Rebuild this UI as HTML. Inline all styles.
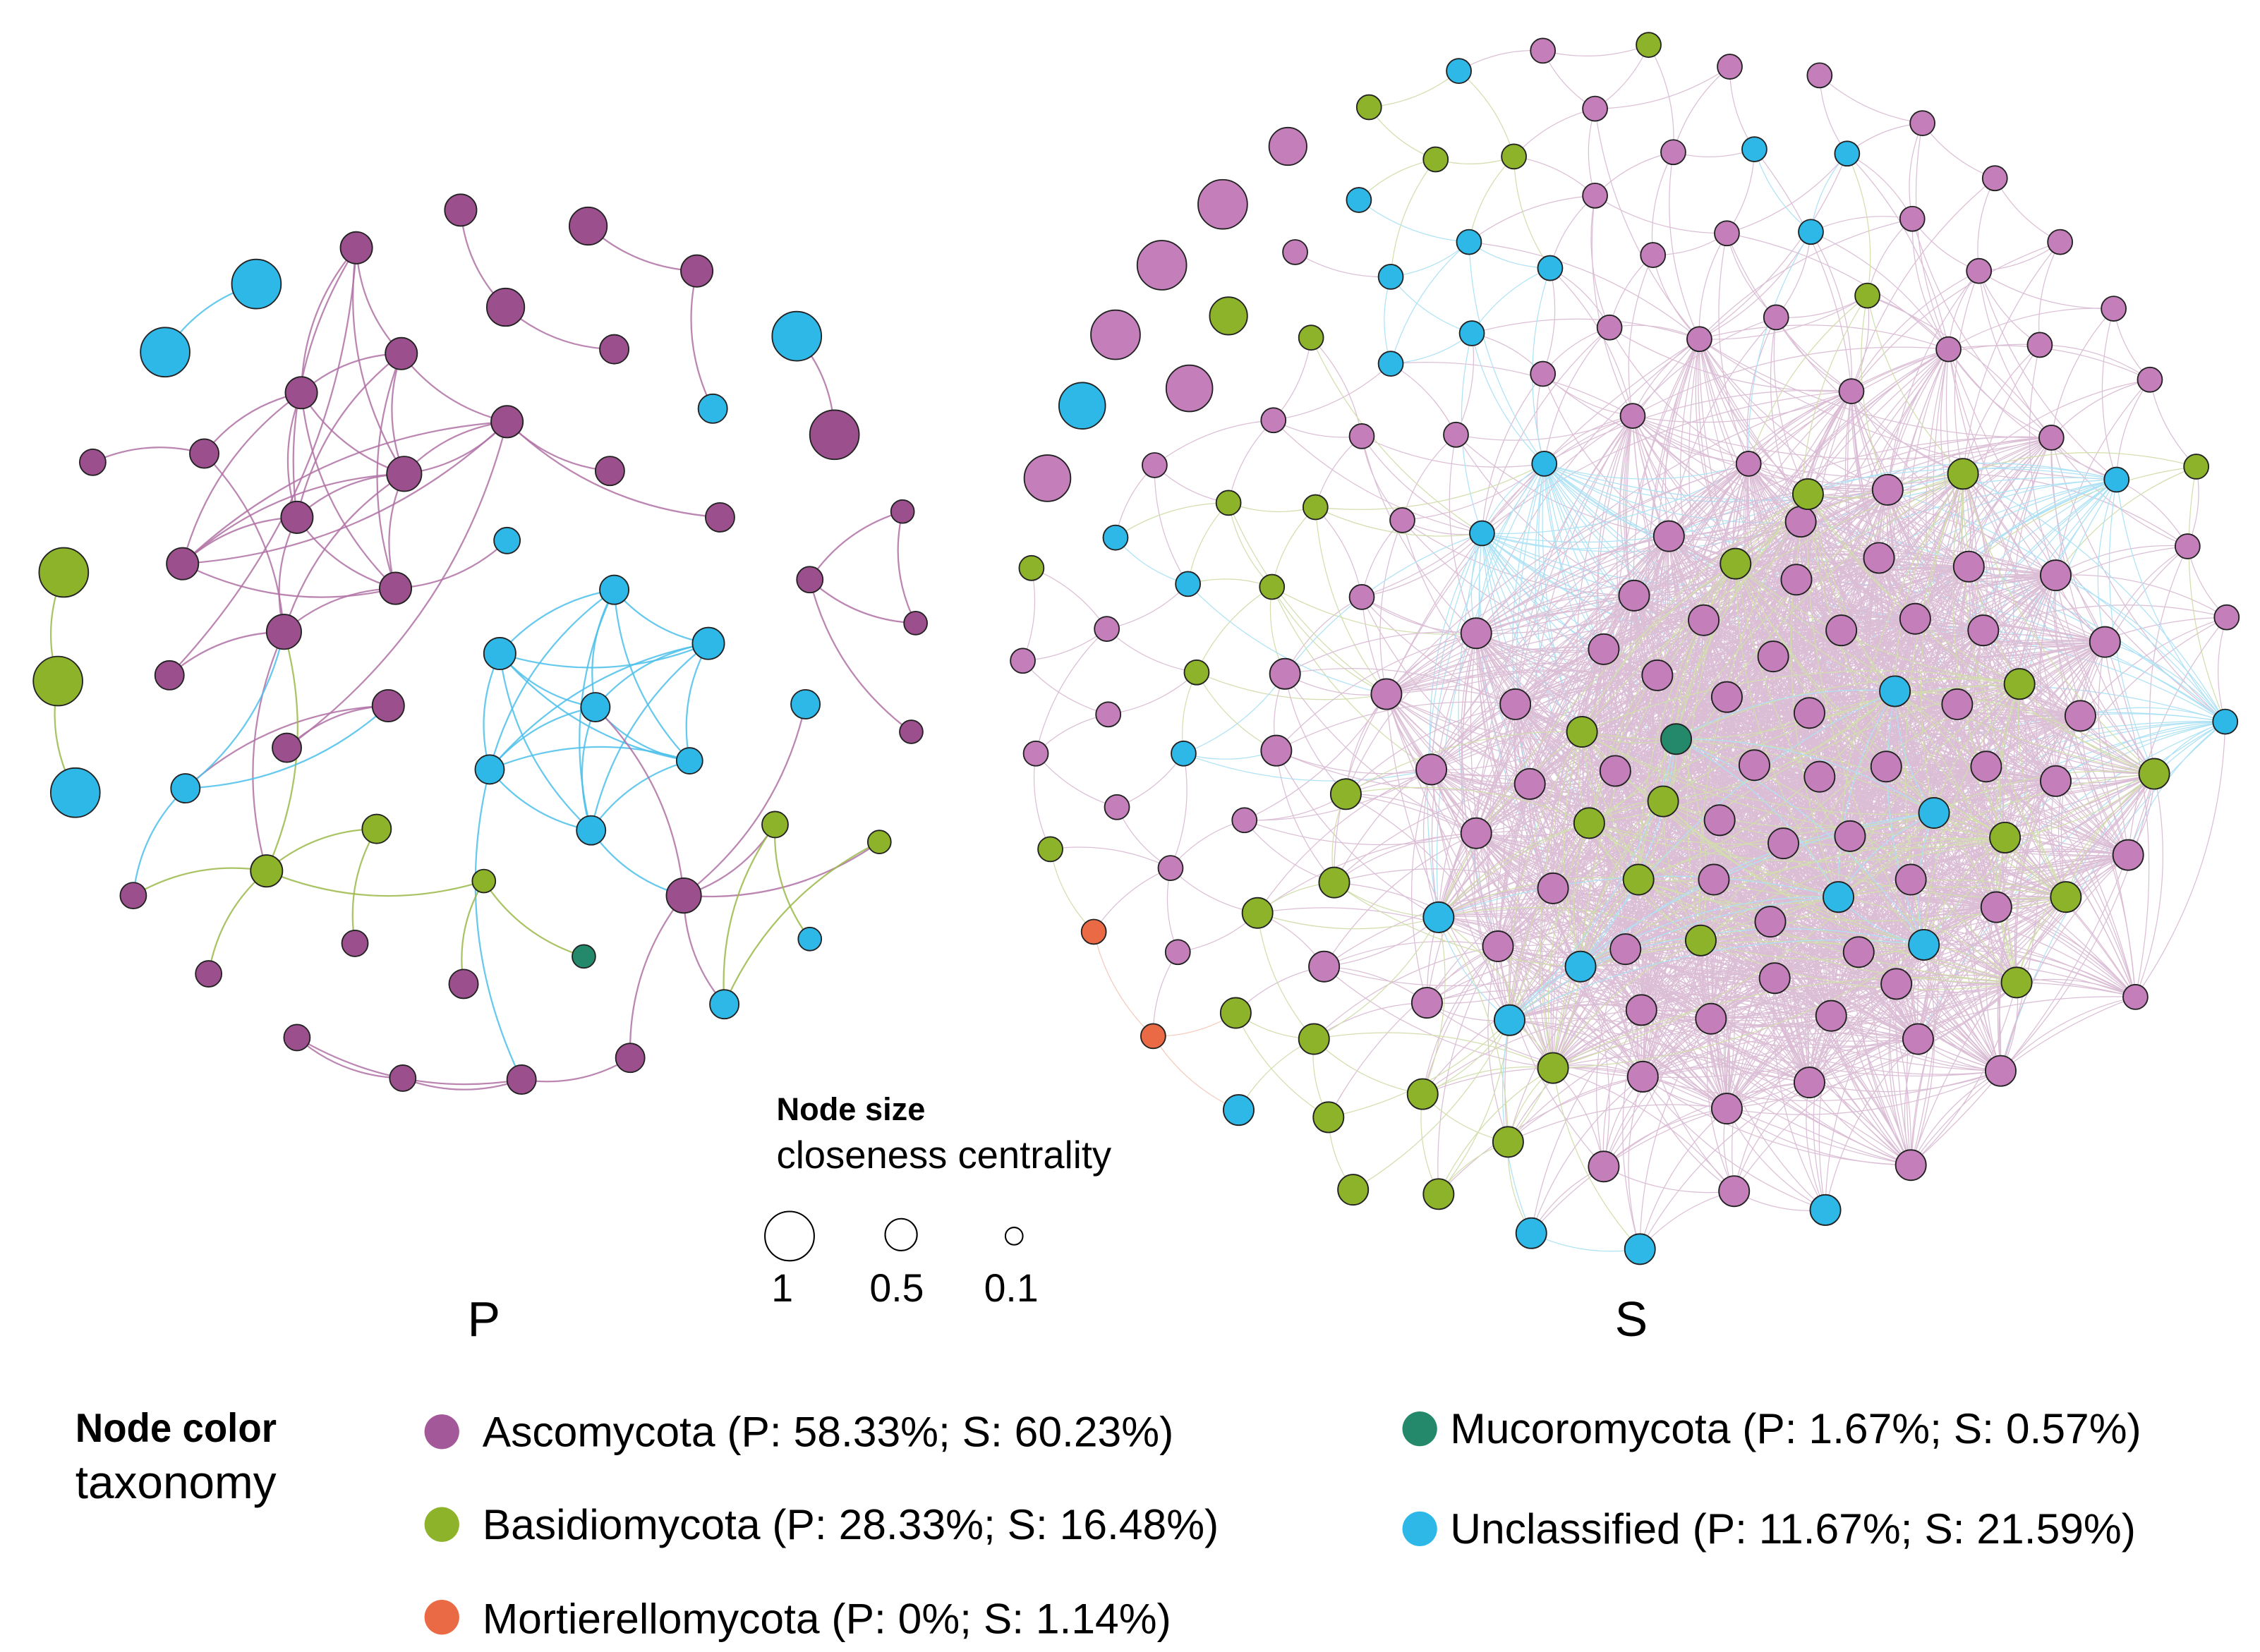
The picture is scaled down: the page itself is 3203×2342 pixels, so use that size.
<!DOCTYPE html>
<html><head><meta charset="utf-8"><style>
html,body{margin:0;padding:0;background:#fff;}
svg{display:block;font-family:"Liberation Sans",Arial,sans-serif;}
</style></head><body>
<svg id="chart" width="3203" height="2342" viewBox="0 0 1560 1140" preserveAspectRatio="none">
<g id="edges"></g>
<g id="nodes"></g>
<g>
<text x="536" y="773" font-size="22" font-weight="bold">Node size</text>
<text x="536" y="806" font-size="26.5">closeness centrality</text>
<circle cx="545" cy="853" r="17" fill="#fff" stroke="#000" stroke-width="1"/>
<circle cx="622" cy="852" r="11" fill="#fff" stroke="#000" stroke-width="1"/>
<circle cx="700" cy="853" r="6" fill="#fff" stroke="#000" stroke-width="1"/>
<text x="540" y="898" font-size="27" text-anchor="middle">1</text>
<text x="619" y="898" font-size="27" text-anchor="middle">0.5</text>
<text x="698" y="898" font-size="27" text-anchor="middle">0.1</text>
</g>
<text x="334" y="922" font-size="34" text-anchor="middle">P</text>
<text x="1126" y="922" font-size="34" text-anchor="middle">S</text>
<g>
<text x="52" y="995" font-size="28" font-weight="bold" transform="scale(0.95,1)" transform-origin="52 995">Node color</text>
<text x="52" y="1034" font-size="32">taxonomy</text>
<circle cx="305" cy="988" r="12" fill="#a3589a"/>
<text x="333" y="998" font-size="29.5">Ascomycota (P: 58.33%; S: 60.23%)</text>
<circle cx="305" cy="1052" r="12" fill="#8db32a"/>
<text x="333" y="1062" font-size="29.5">Basidiomycota (P: 28.33%; S: 16.48%)</text>
<circle cx="305" cy="1116" r="12" fill="#ea6a45"/>
<text x="333" y="1127" font-size="29.5">Mortierellomycota (P: 0%; S: 1.14%)</text>
<circle cx="980" cy="986" r="12" fill="#24896a"/>
<text x="1001" y="996" font-size="29.5">Mucoromycota (P: 1.67%; S: 0.57%)</text>
<circle cx="980" cy="1055" r="12" fill="#2db8e8"/>
<text x="1001" y="1065" font-size="29.5">Unclassified (P: 11.67%; S: 21.59%)</text>
</g>
</svg>
<script>
// P network nodes: x, y, radius, phylum
const pX=[246,277,208,350,279,205,126,273,196,117,268,198,141,64,318,406,481,349,424,576,421,497,559,623,632,629,472,92,245,144,320,205,278,360,435,
177,114,550,492,350,424,345,489,411,476,338,408,556,128,52,559,500,
44,40,260,184,334,535,607,403];
const pY=[171,244,271,291,327,357,389,406,436,466,487,516,313,319,145,156,187,212,241,300,325,357,400,353,430,505,618,618,651,672,679,716,744,745,730,
196,243,232,282,373,407,451,444,488,525,531,573,486,544,547,648,693,
395,470,572,601,608,569,581,660];
const pR=[11,11,11,11,12,11,11,11,12,10,11,10,10,9,11,13,11,13,10,17,10,10,9,8,8,8,12,9,9,9,10,9,9,10,10,
17,17,17,10,9,10,11,11,10,9,10,10,10,10,17,8,10,
17,17,10,11,8,9,8,8];
const pT=[].concat(Array(35).fill('A'),Array(17).fill('U'),Array(7).fill('B'),['M']);
// P edges (index pairs)
const pEdges=[[0,1],[0,2],[0,4],[0,5],[1,2],[1,4],[1,5],[1,7],[1,3],[2,4],[2,5],[2,6],[2,12],[2,7],[3,4],[3,6],[3,20],[3,21],[4,5],[4,6],[4,7],[4,8],[4,3],[5,6],[5,7],[5,8],[6,7],[6,3],[7,8],[7,39],[8,12],[8,9],[8,55],[10,11],[10,48],[12,13],[14,17],[15,16],[16,38],[17,18],[19,37],[22,24],[22,25],[23,24],[23,22],[35,36],
[40,41],[40,42],[40,43],[40,44],[40,45],[40,46],[41,42],[41,43],[41,44],[41,45],[41,46],[42,43],[42,44],[42,45],[42,46],[43,44],[43,45],[43,46],[44,45],[44,46],[45,46],[46,26],[45,33],[26,47],[26,43],[26,51],[26,34],[26,57],[26,58],[57,51],[58,51],[57,50],
[52,53],[53,49],[54,55],[55,56],[55,29],[55,27],[55,8],[54,28],[56,59],[56,30],[31,32],[32,33],[33,34],[31,33],[48,10],[48,8],[48,27],[9,0],[11,3]];
// S network nodes
const sX=[889,844,802,770,821,723,747,848,
1065,1101,1194,1256,1327,1377,1320,1366,1422,1459,1484,1408,1345,1155,1101,1141,1192,1226,1173,1111,1065,894,879,940,1005,1127,1278,797,968,940,1416,1510,1537,1474,706,764,765,715,771,859,808,813,
945,991,1045,1138,1289,905,848,908,712,878,826,1516,725,
1007,1211,1275,1250,938,960,1014,1070,960,1016,1066,770,820,1023,1461,1536,817,
755,796,
1207,1303,1152,1243,1297,1359,1419,1128,1176,1240,1271,1322,1369,1453,1019,1107,1144,1224,1192,1249,1351,1436,1046,887,881,957,988,1056,1115,1211,1256,1302,1371,1419,1019,1187,1231,1277,1072,1183,1319,1378,1469,1222,1283,1034,1122,1225,1133,1181,1264,1309,985,914,1324,1249,1134,1192,1381,1107,1197,1319,
1248,1355,1198,1394,1092,1148,1097,1384,1487,1131,1426,1174,1392,1072,929,921,868,853,907,982,917,1041,993,934,
1308,1335,1269,1328,993,1091,1042,855,1057,1132,1260,
1157];
const sY=[101,141,183,231,268,330,280,218,
35,75,46,52,85,123,151,187,167,213,262,238,241,105,135,176,161,219,234,226,258,174,290,301,300,287,270,321,359,412,302,377,426,688,456,434,493,520,557,566,599,657,
74,110,108,31,204,233,347,350,392,405,464,322,586,
49,103,106,160,138,191,167,185,251,230,320,371,403,368,331,498,520,
643,715,
320,338,370,360,385,391,397,411,428,400,435,427,435,443,437,448,466,453,481,492,486,494,486,465,518,479,531,541,532,528,536,529,529,539,575,566,582,577,613,607,607,626,590,636,657,653,655,675,697,703,701,679,692,667,717,747,743,765,739,805,822,804,
341,327,389,472,505,553,568,578,534,607,619,649,678,737,548,609,630,699,717,755,771,788,824,821,
477,561,619,652,633,667,704,766,851,862,835,
510];
const sR=[13,17,17,17,16,16,16,13];
const sT=[].concat(Array(6).fill('A'),['U','B'],Array(42).fill('A'),Array(13).fill('B'),Array(17).fill('U'),['O','O'],Array(62).fill('A'),Array(24).fill('B'),Array(11).fill('U'),['M']);
const pCol={A:'#9c4f8d',B:'#8db32a',U:'#2db8e8',M:'#24896a',O:'#ea6a45'};
const sCol={A:'#c47fba',B:'#8db32a',U:'#2db8e8',M:'#24896a',O:'#ea6a45'};
const eCol={A:'#b071a4',B:'#9bb84a',U:'#4cc0ea',M:'#3a9a7c',O:'#e88a6a'};
const NS='http://www.w3.org/2000/svg';
const eg=document.getElementById('edges'), ng=document.getElementById('nodes');
function curve(x1,y1,x2,y2,k){const mx=(x1+x2)/2,my=(y1+y2)/2,dx=x2-x1,dy=y2-y1;return 'M'+x1+' '+y1+' Q'+(mx-dy*k)+' '+(my+dx*k)+' '+x2+' '+y2;}
pEdges.forEach(function(e){const a=e[0],b=e[1];
 const p=document.createElementNS(NS,'path');
 p.setAttribute('d',curve(pX[a],pY[a],pX[b],pY[b],0.18));
 p.setAttribute('fill','none');p.setAttribute('stroke',eCol[pT[a]]);p.setAttribute('stroke-width','1.1');p.setAttribute('opacity','0.85');
 
 
 eg.appendChild(p);});
let sb='';
const core=[];for(let i=8;i<sX.length;i++)core.push(i);
const cx0=1240,cy0=520;
for(let ii=0;ii<core.length;ii++){for(let jj=ii+1;jj<core.length;jj++){
 const a=core[ii],b=core[jj];const dx=sX[a]-sX[b],dy=sY[a]-sY[b];const d=Math.sqrt(dx*dx+dy*dy);
 const ca=Math.hypot(sX[a]-cx0,sY[a]-cy0),cb=Math.hypot(sX[b]-cx0,sY[b]-cy0);
 const lim=(ca<300&&cb<300)?330:(ca<300||cb<300)?180:100;
 if(d<lim && ((a*7+b*13)%3!==0 || ca<250)){
  sb+='<path d="'+curve(sX[a],sY[a],sX[b],sY[b],0.15)+'" stroke="'+eCol[sT[a]]+'"/>';}
}}
const sg=document.createElementNS(NS,'g');
sg.setAttribute('fill','none');sg.setAttribute('stroke-width','0.6');sg.setAttribute('opacity','0.45');


sg.innerHTML=sb;eg.appendChild(sg);
function node(x,y,r,c,name){const el=document.createElementNS(NS,'circle');
 el.setAttribute('cx',x);el.setAttribute('cy',y);el.setAttribute('r',r);el.setAttribute('fill',c);el.setAttribute('stroke','#222');el.setAttribute('stroke-width','0.9');
 
 
 ng.appendChild(el);}
for(let i=0;i<pX.length;i++)node(pX[i],pY[i],pR[i],pCol[pT[i]],'p-node');
for(let i=0;i<sX.length;i++){const r=i<8?sR[i]:(i>=83&&i<=181?10.5:(i>=181?10:8.5));node(sX[i],sY[i],r,sCol[sT[i]],'s-node');}
</script>
</body></html>
